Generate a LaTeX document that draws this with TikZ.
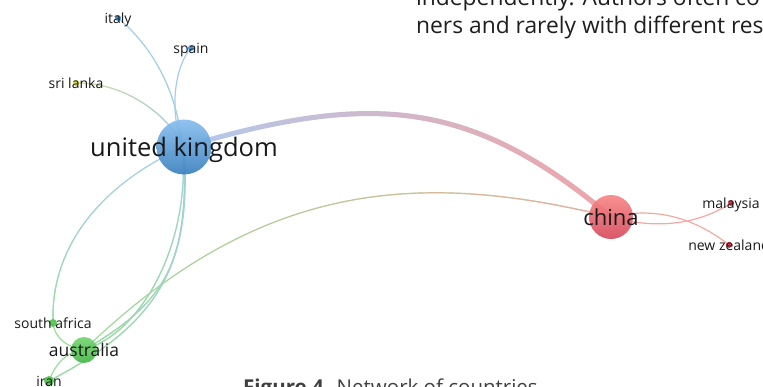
\documentclass[tikz,border=0pt]{standalone}
\usepackage{fontspec}
\setmainfont{Open Sans}
\usetikzlibrary{fadings}

\definecolor{ukblueL}{RGB}{135,190,238}
\definecolor{ukblueD}{RGB}{58,128,190}
\definecolor{chinaL}{RGB}{248,135,135}
\definecolor{chinaD}{RGB}{214,74,92}
\definecolor{ausL}{RGB}{115,212,112}
\definecolor{ausD}{RGB}{72,184,74}
\definecolor{dotblue}{RGB}{80,150,215}
\definecolor{dotred}{RGB}{220,60,75}
\definecolor{dotgreen}{RGB}{92,200,92}
\definecolor{dotyellow}{RGB}{215,215,60}
\definecolor{lnblue}{RGB}{165,205,240}
\definecolor{lnred}{RGB}{245,168,162}
\definecolor{lngreen}{RGB}{155,222,152}
\definecolor{lnyellow}{RGB}{208,222,150}
\definecolor{ukchinaB}{RGB}{178,202,238}
\definecolor{ukchinaR}{RGB}{242,165,165}
\definecolor{bodytext}{RGB}{30,30,30}
\definecolor{captext}{RGB}{64,64,64}

\tikzfading[name=toright, left color=transparent!100, right color=transparent!0]
\tikzfading[name=todown, top color=transparent!100, bottom color=transparent!0]

\tikzset{
  link/.style={line width=1.2pt, line cap=round},
  fadelink/.style n args={3}{link, draw=#1, postaction={draw=#2, path fading=#3}},
  bubble/.style={circle, inner sep=0pt, minimum size=#1, opacity=0.92},
  dot/.style={circle, inner sep=0pt, minimum size=#1},
  lab/.style={inner sep=0pt, anchor=base, yshift={-0.37*#1pt}, font=\fontsize{#1}{#1}\selectfont, text=black!90},
  small/.style={lab=14},
}

\begin{document}
\begin{tikzpicture}[x=1pt,y=-1pt]
  \useasboundingbox (0,0) rectangle (763,386);
  \clip (0,0) rectangle (763,386);

  \coordinate (uk) at (184,147);
  \coordinate (china) at (611,217);
  \coordinate (aus) at (84,350);
  \coordinate (italy) at (118,18);
  \coordinate (spain) at (191,48);
  \coordinate (srilanka) at (76,83);
  \coordinate (malaysia) at (731,203);
  \coordinate (nz) at (729,245);
  \coordinate (safrica) at (53,323);
  \coordinate (iran) at (49,381);

  \draw[fadelink={lngreen}{lnred}{toright}] (china) .. controls (420,170) and (260,180) .. (aus);
  \draw[link, draw=lnred] (china) .. controls (665,232) and (705,220) .. (malaysia);
  \draw[link, draw=lnred] (china) .. controls (660,205) and (700,222) .. (nz);
  \draw[fadelink={lnyellow}{lnblue}{toright}] (srilanka) .. controls (120,82) and (165,110) .. (uk);
  \draw[link, draw=lnblue] (spain) .. controls (172,70) and (170,120) .. (uk);
  \draw[fadelink={lnblue}{lngreen}{todown}] (italy) .. controls (233,114) and (180,320) .. (aus);
  \draw[fadelink={lnblue}{lngreen}{todown}] (uk) .. controls (188,260) and (170,300) .. (aus);
  \draw[fadelink={lnblue}{lngreen}{todown}] (uk) .. controls (192,262) and (162,322) .. (iran);
  \draw[fadelink={lnblue}{lngreen}{todown}] (uk) .. controls (110,180) and (50,240) .. (safrica);
  \draw[link, draw=lngreen] (safrica) .. controls (55,340) and (70,348) .. (aus);
  \draw[link, draw=lngreen] (iran) .. controls (55,365) and (65,352) .. (aus);
  \draw[fadelink={ukchinaB}{ukchinaR}{toright}, line width=5pt] (uk) .. controls (370,92) and (470,98) .. (china);

  \node[bubble=55pt, top color=ukblueL, bottom color=ukblueD] (ukdot) at (uk) {};
  \node[bubble=44pt, top color=chinaL, bottom color=chinaD] (chinadot) at (china) {};
  \node[bubble=26pt, top color=ausL, bottom color=ausD] (ausdot) at (aus) {};
  \node[dot=6pt, fill=dotblue] (italydot) at (italy) {};
  \node[dot=6pt, fill=dotblue] (spaindot) at (spain) {};
  \node[dot=6pt, fill=dotyellow] (srilankadot) at (srilanka) {};
  \node[dot=6pt, fill=dotred] (malaysiadot) at (malaysia) {};
  \node[dot=6pt, fill=dotred] (nzdot) at (nz) {};
  \node[dot=8pt, fill=dotgreen] (safricadot) at (safrica) {};
  \node[dot=10pt, fill=dotgreen] (irandot) at (iran) {};

  \node[lab=25.5] (uklab) at (uk) {united kingdom};
  \node[lab=22] (chinalab) at (china) {china};
  \node[lab=17.5] (auslab) at (aus) {australia};
  \node[small] (italylab) at (italy) {italy};
  \node[small] (spainlab) at (spain) {spain};
  \node[small] (srilankalab) at (srilanka) {sri lanka};
  \node[small] (malaysialab) at (malaysia) {malaysia};
  \node[small] (nzlab) at (nz) {new zealand};
  \node[small] (safricalab) at (safrica) {south africa};
  \node[small] (iranlab) at (iran) {iran};

  \node[anchor=base west, inner sep=0pt, text=bodytext, font=\fontsize{22.8}{27}\selectfont] (line1) at (416,5) {independently. Authors often co};
  \node[anchor=base west, inner sep=0pt, text=bodytext, font=\fontsize{22.8}{27}\selectfont] (line2) at (416,33) {ners and rarely with different res};
  \node[anchor=base west, inner sep=0pt, text=captext, font=\fontsize{20.5}{25}\selectfont] (caption) at (243,394) {\textbf{Figure 4.} Network of countries};
\end{tikzpicture}
\end{document}
